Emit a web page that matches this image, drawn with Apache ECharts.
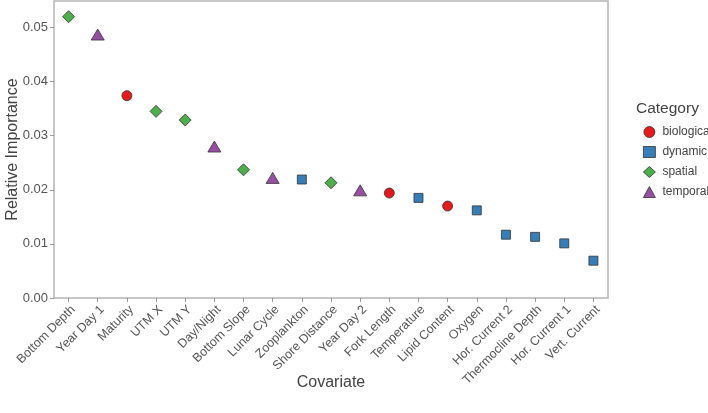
<!DOCTYPE html>
<html>
<head>
<meta charset="utf-8">
<script src="https://cdn.jsdelivr.net/npm/echarts@6/dist/echarts.min.js"></script>
<style>html,body{margin:0;padding:0;background:#fff;}#c{width:708px;height:413px;}</style>
</head>
<body>
<div id="c"></div>
<script>
const covariates = ['Bottom Depth','Year Day 1','Maturity','UTM X','UTM Y','Day/Night','Bottom Slope','Lunar Cycle','Zooplankton','Shore Distance','Year Day 2','Fork Length','Temperature','Lipid Content','Oxygen','Hor. Current 2','Thermocline Depth','Hor. Current 1','Vert. Current'];
const importance = [0.0520,0.0487,0.0374,0.0345,0.0329,0.0280,0.0237,0.0222,0.0219,0.0213,0.0199,0.0194,0.0185,0.0170,0.0162,0.0117,0.0113,0.0101,0.0069];
const categoryOf = ['spatial','temporal','biological','spatial','spatial','temporal','spatial','temporal','dynamic','spatial','temporal','biological','dynamic','biological','dynamic','dynamic','dynamic','dynamic','dynamic'];
const categoryNames = ['biological','dynamic','spatial','temporal'];
const yTicks = [0, 0.01, 0.02, 0.03, 0.04, 0.05];

const styleMap = {
  biological: {symbol:'circle', size:10, color:'#E41A1C'},
  dynamic: {symbol:'rect', size:9, color:'#377EB8'},
  spatial: {symbol:'diamond', size:[12,12], color:'#4DAF4A'},
  temporal: {symbol:'triangle', size:[13,11], color:'#984EA3'}
};

const series = categoryNames.map(cat => ({
  name: cat,
  type: 'scatter',
  symbol: styleMap[cat].symbol,
  symbolSize: styleMap[cat].size,
  itemStyle: {color: styleMap[cat].color, borderColor: '#333', borderWidth: 0.8, opacity: 1},
  data: covariates.map((c,i) => categoryOf[i] === cat ? [c, importance[i]] : null).filter(d => d)
}));

const chart = echarts.init(document.getElementById('c'));
chart.setOption({
  animation: false,
  backgroundColor: '#fff',
  textStyle: {fontFamily: 'Liberation Sans, Arial, sans-serif'},
  grid: {left: 54, right: 100, top: 1, bottom: 115, show: true, borderColor: '#b5b5b5', borderWidth: 1.5, backgroundColor: '#fff', containLabel: false, outerBoundsMode: 'none'},
  title: {text: 'Category', left: 631, top: 96, textStyle: {fontSize: 15.5, fontWeight: 'normal', color: '#444', fontFamily: 'Liberation Sans, Arial, sans-serif'}},
  legend: {
    orient: 'vertical', left: 638, top: 121, itemGap: 8, itemWidth: 12, itemHeight: 11,
    data: categoryNames.map(n => ({name: n, itemStyle: {borderWidth: 0.8}})),
    textStyle: {fontSize: 12, color: '#444', padding: [0,0,0,2]}
  },
  xAxis: {
    type: 'category',
    data: covariates,
    boundaryGap: true,
    name: 'Covariate',
    nameLocation: 'middle',
    nameGap: 77,
    nameMoveOverlap: false,
    nameTextStyle: {fontSize: 16, color: '#444'},
    axisLine: {show: false},
    axisTick: {show: true, alignWithLabel: true, length: 4, lineStyle: {color: '#999'}},
    axisLabel: {rotate: 45, fontSize: 12.5, color: '#555', margin: 5, interval: 0, verticalAlign: 'top', align: 'right'},
    splitLine: {show: false}
  },
  yAxis: {
    type: 'value',
    min: 0, max: 0.0549, interval: 0.01,
    name: 'Relative Importance',
    nameLocation: 'middle',
    nameGap: 33,
    nameMoveOverlap: false,
    nameTextStyle: {fontSize: 16, color: '#444'},
    axisLine: {show: false},
    axisTick: {show: true, length: 4, lineStyle: {color: '#999'}},
    axisLabel: {fontSize: 13, color: '#555', margin: 6, showMaxLabel: false,
      formatter: v => {
        const t = yTicks.find(k => Math.abs(k - v) < 1e-9);
        return t === undefined ? '' : t.toFixed(2);
      }},
    splitLine: {show: false}
  },
  series: series
});
</script>
</body>
</html>
